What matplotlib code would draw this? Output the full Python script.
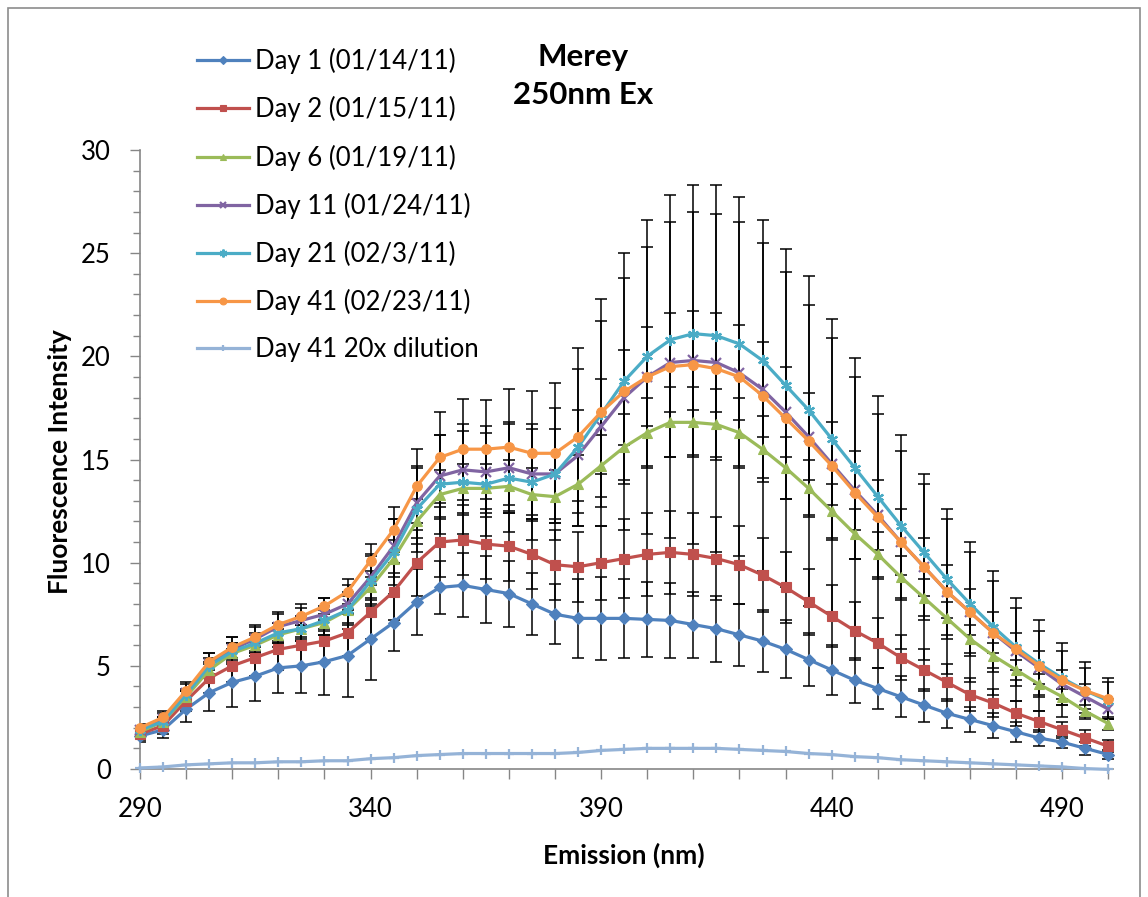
import numpy as np
import matplotlib.pyplot as plt
from matplotlib.ticker import MultipleLocator, FixedLocator
from matplotlib.patches import Rectangle

plt.rcParams["font.family"] = ["Lato", "DejaVu Sans"]

# emission wavelengths (nm)
wavelength = np.arange(290, 505, 5)

day1 = [1.6, 1.9, 2.9, 3.7, 4.2, 4.5, 4.9, 5.0, 5.2, 5.5,
        6.3, 7.1, 8.1, 8.8, 8.9, 8.7, 8.5, 8.0, 7.5, 7.3,
        7.3, 7.3, 7.25, 7.2, 7.0, 6.8, 6.5, 6.2, 5.8, 5.3,
        4.8, 4.3, 3.9, 3.5, 3.1, 2.7, 2.4, 2.1, 1.8, 1.5,
        1.3, 1.0, 0.7]
day1_err = [0.3, 0.4, 0.6, 0.9, 1.2, 1.2, 1.2, 1.3, 1.6, 2.0,
            2.0, 1.4, 1.6, 1.3, 1.55, 1.6, 1.6, 1.5, 1.45, 1.9,
            2.0, 1.9, 1.8, 1.8, 1.6, 1.6, 1.5, 1.5, 1.4, 1.3,
            1.2, 1.1, 1.0, 1.0, 0.8, 0.7, 0.6, 0.6, 0.5, 0.4,
            0.3, 0.3, 0.2]

day2 = [1.7, 2.1, 3.3, 4.4, 5.0, 5.4, 5.8, 6.0, 6.2, 6.6,
        7.6, 8.6, 10.0, 11.0, 11.1, 10.9, 10.8, 10.4, 9.9, 9.8,
        10.0, 10.2, 10.4, 10.5, 10.4, 10.2, 9.9, 9.4, 8.8, 8.1,
        7.4, 6.7, 6.1, 5.4, 4.8, 4.2, 3.6, 3.2, 2.7, 2.3,
        1.9, 1.5, 1.1]
day2_err = [0.3, 0.4, 0.5, 0.7, 0.8, 0.9, 1.0, 1.0, 1.0, 1.1,
            1.3, 1.4, 1.6, 1.7, 1.7, 1.7, 1.7, 1.7, 1.7, 1.7,
            1.8, 1.9, 2.0, 2.0, 2.0, 2.0, 1.9, 1.8, 1.7, 1.6,
            1.5, 1.4, 1.2, 1.1, 1.0, 0.9, 0.8, 0.7, 0.6, 0.5,
            0.4, 0.4, 0.3]

day6 = [1.8, 2.3, 3.5, 4.8, 5.6, 6.0, 6.5, 6.8, 7.1, 7.7,
        8.8, 10.2, 12.0, 13.3, 13.6, 13.6, 13.7, 13.3, 13.2, 13.8,
        14.7, 15.6, 16.3, 16.8, 16.8, 16.7, 16.3, 15.5, 14.6, 13.6,
        12.5, 11.4, 10.4, 9.3, 8.3, 7.3, 6.3, 5.5, 4.8, 4.1,
        3.5, 2.8, 2.2]
day6_err = [0.2, 0.2, 0.3, 0.4, 0.5, 0.5, 0.6, 0.6, 0.6, 0.7,
            0.8, 0.9, 1.1, 1.2, 1.2, 1.2, 1.3, 1.3, 1.3, 1.4,
            1.5, 1.6, 1.7, 1.7, 1.7, 1.7, 1.7, 1.6, 1.5, 1.4,
            1.3, 1.2, 1.1, 1.0, 0.9, 0.8, 0.7, 0.6, 0.5, 0.5,
            0.4, 0.3, 0.3]

day11 = [1.9, 2.4, 3.7, 5.1, 5.8, 6.3, 6.9, 7.2, 7.5, 8.0,
         9.3, 10.8, 12.9, 14.2, 14.5, 14.4, 14.6, 14.3, 14.3, 15.2,
         16.6, 18.0, 19.0, 19.7, 19.8, 19.7, 19.2, 18.4, 17.3, 16.1,
         14.8, 13.5, 12.3, 11.0, 9.8, 8.6, 7.6, 6.6, 5.7, 4.9,
         4.1, 3.5, 2.9]
day11_err = [0.2, 0.3, 0.4, 0.5, 0.6, 0.7, 0.7, 0.8, 0.8, 0.9,
             1.1, 1.3, 1.7, 2.0, 2.2, 2.2, 2.2, 2.2, 2.2, 2.2,
             2.3, 2.3, 2.4, 2.4, 2.4, 2.4, 2.3, 2.3, 2.2, 2.1,
             2.0, 1.9, 1.7, 1.6, 1.4, 1.3, 1.1, 1.0, 0.9, 0.8,
             0.7, 0.6, 0.5]

day21 = [1.9, 2.3, 3.6, 5.0, 5.7, 6.1, 6.6, 6.8, 7.2, 7.7,
         9.1, 10.5, 12.6, 13.8, 13.9, 13.8, 14.1, 13.9, 14.3, 15.6,
         17.2, 18.8, 20.0, 20.8, 21.1, 21.0, 20.6, 19.8, 18.6, 17.4,
         16.0, 14.6, 13.2, 11.8, 10.5, 9.2, 8.0, 6.9, 5.9, 5.1,
         4.4, 3.8, 3.3]
day21_err = [0.2, 0.2, 0.3, 0.4, 0.4, 0.5, 0.5, 0.6, 0.7, 0.9,
             1.2, 1.6, 2.1, 2.4, 2.5, 2.5, 2.6, 2.8, 3.2, 3.8,
             4.5, 5.0, 5.3, 5.7, 5.9, 5.9, 5.9, 5.7, 5.5, 5.1,
             4.9, 4.4, 4.0, 3.6, 3.3, 2.9, 2.5, 2.2, 1.9, 1.6,
             1.3, 1.1, 0.9]

day41 = [2.0, 2.5, 3.8, 5.2, 5.9, 6.4, 7.0, 7.4, 7.9, 8.6,
         10.1, 11.6, 13.7, 15.1, 15.5, 15.5, 15.6, 15.3, 15.3, 16.1,
         17.3, 18.3, 19.0, 19.5, 19.6, 19.4, 19.0, 18.1, 17.0, 15.9,
         14.7, 13.4, 12.2, 11.0, 9.8, 8.6, 7.6, 6.6, 5.8, 5.0,
         4.3, 3.8, 3.4]
day41_err = [0.2, 0.3, 0.4, 0.4, 0.5, 0.5, 0.5, 0.4, 0.4, 0.6,
             0.8, 1.1, 1.8, 2.2, 2.45, 2.4, 2.8, 3.0, 3.4, 4.3,
             5.5, 6.7, 7.6, 8.3, 8.7, 8.9, 8.7, 8.5, 8.2, 8.0,
             7.1, 6.5, 5.9, 5.2, 4.5, 4.0, 3.4, 3.0, 2.5, 2.2,
             1.8, 1.4, 1.0]

day41_dil = [0.05, 0.1, 0.2, 0.25, 0.3, 0.3, 0.35, 0.35, 0.4, 0.4,
             0.5, 0.55, 0.65, 0.7, 0.75, 0.75, 0.75, 0.75, 0.75, 0.8,
             0.9, 0.95, 1.0, 1.0, 1.0, 1.0, 0.95, 0.9, 0.85, 0.75,
             0.7, 0.6, 0.55, 0.45, 0.4, 0.35, 0.3, 0.25, 0.2, 0.15,
             0.1, 0.02, -0.02]

labels = ["Day 1 (01/14/11)", "Day 2 (01/15/11)", "Day 6 (01/19/11)",
          "Day 11 (01/24/11)", "Day 21 (02/3/11)", "Day 41 (02/23/11)",
          "Day 41 20x dilution"]

series = [
    (day1, day1_err, "#4F81BD", "D", 6),
    (day2, day2_err, "#C0504D", "s", 7),
    (day6, day6_err, "#9BBB59", "^", 7),
    (day11, day11_err, "#8064A2", "x", 7),
    (day21, day21_err, "#4BACC6", (6, 2, 0), 8),
    (day41, day41_err, "#F79646", "o", 7),
    (day41_dil, None, "#95B3D7", "+", 7),
]

fig = plt.figure(figsize=(11.48, 8.97), dpi=100)
ax = fig.add_axes([140 / 1148, 1 - 769 / 897, (1113 - 140) / 1148, (769 - 150) / 897])

for (vals, err, color, marker, ms), label in zip(series, labels):
    if err is not None:
        ax.errorbar(wavelength, vals, yerr=err, fmt="none", ecolor="black",
                    elinewidth=1.1, capsize=4.3, capthick=1.1, zorder=2)
    ax.plot(wavelength, vals, color=color, lw=2.3, marker=marker, ms=ms,
            mew=1.6 if marker in ("x", "+", (6, 2, 0)) else 0.8,
            mec=color, label=label, zorder=3, clip_on=False)

ax.set_xlim(290, 501)
ax.set_ylim(0, 30)
ax.xaxis.set_major_locator(FixedLocator(np.arange(290, 500, 50)))
ax.xaxis.set_minor_locator(MultipleLocator(10))
ax.yaxis.set_major_locator(MultipleLocator(5))
ax.yaxis.set_minor_locator(MultipleLocator(1))
ax.tick_params(axis="x", which="both", direction="out", length=7, width=1,
               color="#868686", labelsize=18.5, pad=13)
ax.tick_params(axis="y", which="major", direction="out", length=7, width=1,
               color="#868686", labelsize=18.5, pad=14)
ax.tick_params(axis="y", which="minor", direction="out", length=5, width=1,
               color="#868686")
for side in ("top", "right"):
    ax.spines[side].set_visible(False)
for side in ("left", "bottom"):
    ax.spines[side].set_color("#868686")
    ax.spines[side].set_linewidth(1.2)

fig.text(583 / 1148, 1 - 76 / 897, "Merey\n250nm Ex", ha="center", va="center",
         fontsize=22.5, fontweight="bold", linespacing=1.45)
fig.text(60 / 1148, 1 - 462 / 897, "Fluorescence Intensity", rotation=90,
         ha="center", va="center", fontsize=19, fontweight="bold")
fig.text(624 / 1148, 1 - 855 / 897, "Emission (nm)", ha="center", va="center",
         fontsize=19, fontweight="bold")

fig.legend(loc="upper left", bbox_to_anchor=(174 / 1148, 1 - 25 / 897),
           frameon=False, fontsize=18.5, handlelength=2.0, handletextpad=0.25,
           labelspacing=0.86, markerscale=0.7)

# chart-area border
fig.patches.append(Rectangle((8 / 1148, -0.02), (1140 - 8) / 1148, (897 - 8) / 897 + 0.02,
                             transform=fig.transFigure, fill=False,
                             edgecolor="#8C8C8C", lw=1.2))

fig.savefig("out.png", dpi=100)
